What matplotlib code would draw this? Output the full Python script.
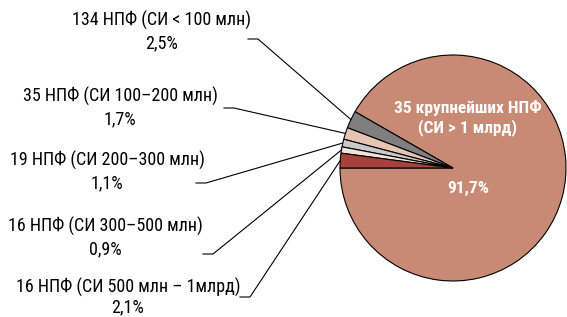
import matplotlib
matplotlib.use("Agg")
import matplotlib.pyplot as plt
import numpy as np

# ------------------ данные ------------------
shares = [91.7, 2.5, 1.7, 1.1, 0.9, 2.1]
colors = ["#C98A75", "#7F7F7F", "#E6C4B4", "#C9C9C9", "#F3E2DA", "#A6413B"]
labels = [
    "35 крупнейших НПФ\n(СИ > 1 млрд)",
    "134 НПФ (СИ < 100 млн)",
    "35 НПФ (СИ 100–200 млн)",
    "19 НПФ (СИ 200–300 млн)",
    "16 НПФ (СИ 300–500 млн)",
    "16 НПФ (СИ 500 млн – 1млрд)",
]
pct_labels = ["91,7%", "2,5%", "1,7%", "1,1%", "0,9%", "2,1%"]

plt.rcParams["font.family"] = ["Roboto Condensed", "DejaVu Sans"]

W, H = 567, 317
fig = plt.figure(figsize=(W / 100, H / 100), dpi=100)
ax = fig.add_axes([0, 0, 1, 1])

cx, cy, r = 453, H - 168, 113
wedges, _ = ax.pie(shares, colors=colors, startangle=180, counterclock=True,
                   center=(cx, cy), radius=r,
                   wedgeprops=dict(edgecolor="black", linewidth=0.8))
ax.set_xlim(0, W)
ax.set_ylim(0, H)
ax.set_aspect("equal")
ax.axis("off")

# подписи внутри большого сектора
ax.text(468, H - 118, labels[0], color="white", fontsize=12.5, fontweight="bold",
        ha="center", va="center", linespacing=1.3)
ax.text(468, H - 188, pct_labels[0], color="white", fontsize=12.5, fontweight="bold",
        ha="center", va="center")

# подписи малых секторов: (центр текста x, y середины блока, начало линии x, y, межстрочный)
label_pos = [
    (162, 32, 248, 39, 1.3),
    (120, 108, 224, 108, 1.3),
    (107, 172, 196, 183, 1.3),
    (105, 238, 203, 254, 1.3),
    (128, 297, 240, 297, 1.15),
]
for i, (tx, ty, lx, ly, ls) in enumerate(label_pos, start=1):
    ax.text(tx, H - ty, labels[i] + "\n" + pct_labels[i], fontsize=13,
            ha="center", va="center", linespacing=ls)
    w = wedges[i]
    ang = np.deg2rad((w.theta1 + w.theta2) / 2)
    ex, ey = cx + r * np.cos(ang), cy + r * np.sin(ang)
    ax.plot([lx, lx + 10, ex], [H - ly, H - ly, ey], color="black", linewidth=0.8)

fig.savefig("out.png", dpi=100)
